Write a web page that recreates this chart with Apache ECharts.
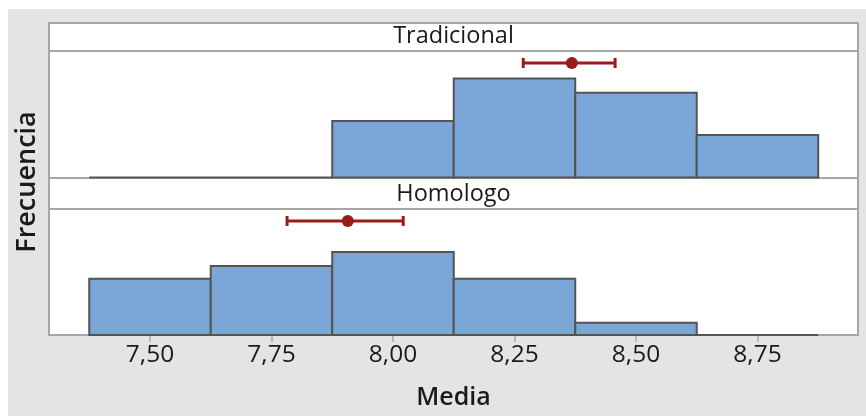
<!DOCTYPE html>
<html>
<head>
<meta charset="utf-8">
<script src="https://cdn.jsdelivr.net/npm/echarts@6/dist/echarts.min.js"></script>
<style>
html,body{margin:0;padding:0;background:#fff;}
#c{width:866px;height:416px;}
</style>
</head>
<body>
<div id="c"></div>
<script>
// ---- data ----
const panels = ['Tradicional', 'Homologo'];
const binStarts = [7.375, 7.625, 7.875, 8.125, 8.375, 8.625];
const binWidth = 0.25;
const freqTradicional = [0, 0, 4, 7, 6, 3];
const freqHomologo = [4, 4.9, 5.9, 4, 0.87, 0];
// interval: [lower, mean, upper]
const intervalTradicional = [8.268, 8.368, 8.457];
const intervalHomologo = [7.782, 7.907, 8.021];
const xTicks = [7.50, 7.75, 8.00, 8.25, 8.50, 8.75];

const FONT = '"Open Sans", "Noto Sans", sans-serif';
const X_MIN = 7.2922, X_MAX = 8.9568, Y_MAX = 8.95, INTERVAL_LEVEL = 8.1;
const BAR_FILL = '#7ba6d8', BAR_STROKE = '#545454', RED = '#991c1c', FRAME = '#a6a6a6';

function histData(freqs) {
  return binStarts.map((s, i) => [s, s + binWidth, freqs[i]]);
}
function renderBar(params, api) {
  const a = api.coord([api.value(0), 0]);
  const b = api.coord([api.value(1), api.value(2)]);
  return {
    type: 'rect',
    shape: { x: a[0], y: b[1], width: b[0] - a[0], height: a[1] - b[1] },
    style: { fill: BAR_FILL, stroke: BAR_STROKE, lineWidth: 2 }
  };
}
function renderInterval(params, api) {
  const lo = api.coord([api.value(0), INTERVAL_LEVEL]);
  const m = api.coord([api.value(1), INTERVAL_LEVEL]);
  const hi = api.coord([api.value(2), INTERVAL_LEVEL]);
  const st = { stroke: RED, lineWidth: 3 };
  return {
    type: 'group',
    children: [
      { type: 'line', shape: { x1: lo[0], y1: lo[1], x2: hi[0], y2: hi[1] }, style: st },
      { type: 'line', shape: { x1: lo[0], y1: lo[1] - 5, x2: lo[0], y2: lo[1] + 5 }, style: st },
      { type: 'line', shape: { x1: hi[0], y1: hi[1] - 5, x2: hi[0], y2: hi[1] + 5 }, style: st },
      { type: 'circle', shape: { cx: m[0], cy: m[1], r: 6 }, style: { fill: RED } }
    ]
  };
}

const chart = echarts.init(document.getElementById('c'), null, { renderer: 'canvas' });
const xBase = {
  type: 'value', min: X_MIN, max: X_MAX,
  splitLine: { show: false }
};
const option = {
  animation: false,
  backgroundColor: '#ffffff',
  textStyle: { fontFamily: FONT },
  grid: [
    { left: 49, right: 8, top: 51, height: 126.5, containLabel: false },
    { left: 49, right: 8, top: 209, height: 126, containLabel: false }
  ],
  xAxis: [
    Object.assign({}, xBase, {
      gridIndex: 0, axisLine: { show: false }, axisTick: { show: false }, axisLabel: { show: false }
    }),
    Object.assign({}, xBase, {
      gridIndex: 1,
      axisLine: { show: true, onZero: false, lineStyle: { color: FRAME, width: 2 } },
      axisTick: { show: true, customValues: xTicks, length: 7, lineStyle: { color: FRAME, width: 1.5 } },
      axisLabel: {
        show: true, customValues: xTicks, margin: 8,
        fontFamily: FONT, fontSize: 24.5, color: '#1a1a1a',
        formatter: v => v.toFixed(2).replace('.', ',')
      },
      name: 'Media', nameLocation: 'middle', nameGap: 50,
      nameTextStyle: { fontFamily: FONT, fontSize: 25, fontWeight: 600, color: '#1a1a1a' }
    })
  ],
  yAxis: [
    { type: 'value', gridIndex: 0, min: 0, max: Y_MAX, show: false, splitLine: { show: false } },
    { type: 'value', gridIndex: 1, min: 0, max: Y_MAX, show: false, splitLine: { show: false } }
  ],
  graphic: [
    { type: 'rect', z: -10, shape: { x: 8, y: 9, width: 858, height: 407 }, style: { fill: '#e4e4e4' } },
    { type: 'rect', z: -9, shape: { x: 49, y: 23, width: 809, height: 312 }, style: { fill: '#ffffff', stroke: FRAME, lineWidth: 2 } },
    { type: 'line', z: -8, shape: { x1: 49, y1: 51, x2: 858, y2: 51 }, style: { stroke: FRAME, lineWidth: 2 } },
    { type: 'line', z: -8, shape: { x1: 49, y1: 178, x2: 858, y2: 178 }, style: { stroke: FRAME, lineWidth: 2 } },
    { type: 'line', z: -8, shape: { x1: 49, y1: 209, x2: 858, y2: 209 }, style: { stroke: FRAME, lineWidth: 2 } },
    { type: 'text', z: 5, x: 453.5, y: 36, style: { text: panels[0], fontFamily: FONT, fontSize: 23.5, fill: '#1a1a1a', align: 'center', verticalAlign: 'middle' } },
    { type: 'text', z: 5, x: 453.5, y: 194, style: { text: panels[1], fontFamily: FONT, fontSize: 23.5, fill: '#1a1a1a', align: 'center', verticalAlign: 'middle' } },
    { type: 'text', z: 5, x: 27, y: 182, rotation: Math.PI / 2, style: { text: 'Frecuencia', fontFamily: FONT, fontSize: 27, fontWeight: 600, fill: '#1a1a1a', align: 'center', verticalAlign: 'middle' } }
  ],
  series: [
    { type: 'custom', name: panels[0], xAxisIndex: 0, yAxisIndex: 0, renderItem: renderBar, data: histData(freqTradicional), clip: false },
    { type: 'custom', name: panels[1], xAxisIndex: 1, yAxisIndex: 1, renderItem: renderBar, data: histData(freqHomologo), clip: false },
    { type: 'custom', xAxisIndex: 0, yAxisIndex: 0, renderItem: renderInterval, data: [intervalTradicional], z: 5 },
    { type: 'custom', xAxisIndex: 1, yAxisIndex: 1, renderItem: renderInterval, data: [intervalHomologo], z: 5 }
  ]
};
chart.setOption(option);
</script>
</body>
</html>
